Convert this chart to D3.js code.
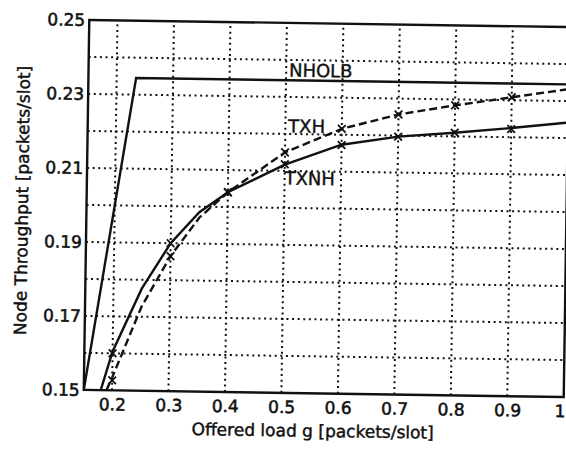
<!DOCTYPE html>
<html>
<head>
<meta charset="utf-8">
<script src="https://cdn.jsdelivr.net/npm/d3@7/dist/d3.min.js"></script>
<style>
  body { margin: 0; background: #fff; }
  svg text { font-family: "DejaVu Sans", sans-serif; fill: #111; }
</style>
</head>
<body>
<div id="chart"></div>
<script>
(function(){

    const width = 566;
    const height = 450;

    // x ticks (offered load) and y ticks (throughput)
    const xTicks = [0.2, 0.3, 0.4, 0.5, 0.6, 0.7, 0.8, 0.9, 1];
    const xGrid = [0.2, 0.3, 0.4, 0.5, 0.6, 0.7, 0.8, 0.9];
    const yTicks = [0.15, 0.17, 0.19, 0.21, 0.23, 0.25];
    const yGrid = [0.16, 0.17, 0.18, 0.19, 0.20, 0.21, 0.22, 0.23, 0.24];

    // NHOLB bound
    const nholbLoad = [0.15, 0.2345, 1.0];
    const nholbThr  = [0.15, 0.2345, 0.2345];

    // TXNH analysis (solid)
    const txnhLoad = [0.18, 0.2, 0.25, 0.3, 0.35, 0.4, 0.5, 0.6, 0.7, 0.8, 0.9, 1.0];
    const txnhThr  = [0.15, 0.1605, 0.1776, 0.19, 0.1985, 0.204, 0.2117, 0.2173, 0.2197, 0.221, 0.2225, 0.2242];

    // TXH analysis (dashed)
    const txhLoad = [0.19, 0.2, 0.25, 0.3, 0.35, 0.4, 0.5, 0.6, 0.7, 0.8, 0.9, 1.0];
    const txhThr  = [0.15, 0.1535, 0.1727, 0.1865, 0.197, 0.204, 0.215, 0.2216, 0.2257, 0.2284, 0.2308, 0.2332];

    // simulation points (x markers)
    const simLoad = [0.2, 0.3, 0.4, 0.5, 0.6, 0.7, 0.8, 0.9];
    const simTXNH = [0.160, 0.190, 0.204, 0.2118, 0.2172, 0.2197, 0.221, 0.2222];
    const simTXH  = [0.1527, 0.1865, 0.204, 0.215, 0.2216, 0.2257, 0.2284, 0.2308];

    // curve labels
    const labelNames = ['NHOLB', 'TXH', 'TXNH'];
    const labelLoad  = [0.505, 0.505, 0.5];
    const labelThr   = [0.2355, 0.2204, 0.2063];

    const margin = {left: 86.5, right: 566.5, top: 23.5, bottom: 393.5};

    const x = d3.scaleLinear().domain([0.15, 1]).range([margin.left, margin.right]);
    const y = d3.scaleLinear().domain([0.15, 0.25]).range([margin.bottom, margin.top]);

    const svg = d3.select("#chart")
        .append("svg")
        .attr("width", width)
        .attr("height", height);

    // the scanned figure sits slightly tilted
    const g = svg.append("g")
        .attr("transform", "rotate(0.85, 326.5, 208.5)");

    // dotted grid
    g.append("g").selectAll("line")
        .data(xGrid)
        .enter().append("line")
        .attr("x1", d => x(d)).attr("x2", d => x(d))
        .attr("y1", y(0.15)).attr("y2", y(0.25))
        .attr("stroke", "#111")
        .attr("stroke-width", 2)
        .attr("stroke-dasharray", "2,3.6");

    g.append("g").selectAll("line")
        .data(yGrid)
        .enter().append("line")
        .attr("x1", x(0.15)).attr("x2", x(1))
        .attr("y1", d => y(d)).attr("y2", d => y(d))
        .attr("stroke", "#111")
        .attr("stroke-width", 2)
        .attr("stroke-dasharray", "2,3.6");

    // axes
    const xAxis = d3.axisBottom(x)
        .tickValues(xTicks)
        .tickSize(0)
        .tickPadding(8)
        .tickFormat(d => d === 1 ? "1" : d3.format(".1f")(d));

    const yAxis = d3.axisLeft(y)
        .tickValues(yTicks)
        .tickSize(0)
        .tickPadding(4)
        .tickFormat(d3.format(".2f"));

    g.append("g")
        .attr("transform", `translate(0,${y(0.15)})`)
        .call(xAxis)
        .call(a => a.select(".domain").remove())
        .selectAll("text")
        .style("font-size", "17px")
        .attr("dx", d => d === 1 ? -4 : 0)
        .attr("stroke", "#111").attr("stroke-width", 0.55);

    g.append("g")
        .attr("transform", `translate(${x(0.15)},0)`)
        .call(yAxis)
        .call(a => a.select(".domain").remove())
        .selectAll("text")
        .style("font-size", "17px")
        .attr("stroke", "#111").attr("stroke-width", 0.55);

    // frame
    g.append("rect")
        .attr("x", x(0.15)).attr("y", y(0.25))
        .attr("width", x(1) - x(0.15))
        .attr("height", y(0.15) - y(0.25))
        .attr("fill", "none")
        .attr("stroke", "#111")
        .attr("stroke-width", 2.4);

    g.append("clipPath").attr("id", "plotclip")
        .append("rect")
        .attr("x", x(0.15)).attr("y", y(0.25))
        .attr("width", x(1) - x(0.15))
        .attr("height", y(0.15) - y(0.25));

    const line = d3.line()
        .x(d => x(d[0]))
        .y(d => y(d[1]));

    const curves = g.append("g").attr("clip-path", "url(#plotclip)");

    curves.append("path")
        .datum(d3.zip(nholbLoad, nholbThr))
        .attr("d", line)
        .attr("fill", "none")
        .attr("stroke", "#111")
        .attr("stroke-width", 2.4);

    curves.append("path")
        .datum(d3.zip(txnhLoad, txnhThr))
        .attr("d", line)
        .attr("fill", "none")
        .attr("stroke", "#111")
        .attr("stroke-width", 2.4);

    curves.append("path")
        .datum(d3.zip(txhLoad, txhThr))
        .attr("d", line)
        .attr("fill", "none")
        .attr("stroke", "#111")
        .attr("stroke-width", 2.4)
        .attr("stroke-dasharray", "8,4");

    // x markers for simulation
    function markers(vals){
        g.append("g").selectAll("path")
            .data(d3.zip(simLoad, vals))
            .enter().append("path")
            .attr("d", d3.symbol().type(d3.symbolX).size(40))
            .attr("transform", d => `translate(${x(d[0])},${y(d[1])})`)
            .attr("fill", "none")
            .attr("stroke", "#111")
            .attr("stroke-width", 1.8);
    }
    markers(simTXNH);
    markers(simTXH);

    // curve labels
    g.append("g").selectAll("text")
        .data(d3.zip(labelNames, labelLoad, labelThr))
        .enter().append("text")
        .attr("x", d => x(d[1]))
        .attr("y", d => y(d[2]))
        .style("font-size", "18px")
        .attr("stroke", "#111").attr("stroke-width", 0.4)
        .text(d => d[0]);

    // axis titles
    g.append("text")
        .attr("x", 316)
        .attr("y", 437)
        .attr("text-anchor", "middle")
        .style("font-size", "17px")
        .attr("stroke", "#111").attr("stroke-width", 0.45)
        .text("Offered load g [packets/slot]");

    g.append("text")
        .attr("transform", "translate(28,205) rotate(-90)")
        .attr("text-anchor", "middle")
        .style("font-size", "17px")
        .attr("stroke", "#111").attr("stroke-width", 0.45)
        .text("Node Throughput [packets/slot]");

}());
</script>
</body>
</html>
